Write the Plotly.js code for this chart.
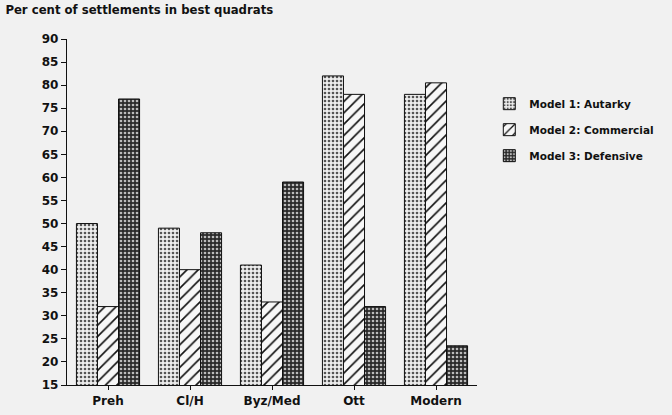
<!DOCTYPE html>
<html>
<head>
<meta charset="utf-8">
<script src="https://cdn.plot.ly/plotly-3.0.1.min.js"></script>
<style>
html,body{margin:0;padding:0;background:#f1f1f1;}
#chart{width:672px;height:415px;}
</style>
</head>
<body>
<div id="chart"></div>
<script>
var categories = ["Preh", "Cl/H", "Byz/Med", "Ott", "Modern"];
var autarky = [50, 49, 41, 82, 78];
var commercial = [32, 40, 33, 78, 80.5];
var defensive = [77, 48, 59, 32, 23.5];
var seriesNames = ["Model 1: Autarky", "Model 2: Commercial", "Model 3: Defensive"];
var yTicks = [15, 20, 25, 30, 35, 40, 45, 50, 55, 60, 65, 70, 75, 80, 85, 90];

var line = {color: "#111", width: 1};
var traces = [
  {type: "bar", x: categories, y: autarky, name: seriesNames[0], legendgroup: "a",
   marker: {color: "#e8e8e8", line: line,
            pattern: {shape: ".", fgcolor: "#555", bgcolor: "#eeeeee", size: 4, solidity: 0.35}}},
  {type: "bar", x: categories, y: commercial, name: seriesNames[1], legendgroup: "b",
   marker: {color: "#ffffff", line: line,
            pattern: {shape: "/", fgcolor: "#111", bgcolor: "#f7f7f7", size: 8, solidity: 0.2}}},
  {type: "bar", x: categories, y: defensive, name: seriesNames[2], legendgroup: "c",
   marker: {color: "#444", line: line,
            pattern: {shape: ".", fgcolor: "#bbbbbb", bgcolor: "#2a2a2a", size: 4, solidity: 0.35}}}
];

var layout = {
  width: 672, height: 415,
  paper_bgcolor: "#f1f1f1", plot_bgcolor: "#f1f1f1",
  margin: {l: 67, r: 195, t: 39, b: 30},
  font: {family: "DejaVu Sans, sans-serif", size: 12, color: "#111", weight: "bold"},
  barmode: "group", bargap: 0.23, bargroupgap: 0,
  title: {text: "<b>Per cent of settlements in best quadrats</b>", x: 0.008, xanchor: "left",
          y: 0.985, yanchor: "top", font: {size: 11.7, color: "#111"}},
  xaxis: {showline: true, linecolor: "#111", linewidth: 1.2, ticks: "outside", ticklen: 4,
          tickcolor: "#111", showgrid: false, zeroline: false, range: [-0.5, 4.5],
          tickfont: {size: 12, weight: "bold"}},
  yaxis: {showline: true, linecolor: "#111", linewidth: 1.2, ticks: "outside", ticklen: 5,
          tickcolor: "#111", showgrid: false, zeroline: false, range: [15, 90],
          tickvals: yTicks, tickfont: {size: 12, weight: "bold"}},
  legend: {x: 1.03, y: 0.855, xanchor: "left", yanchor: "top", traceorder: "grouped",
           tracegroupgap: 7, font: {size: 10.5, weight: "bold"}, bgcolor: "rgba(0,0,0,0)"},
  showlegend: true
};

Plotly.newPlot("chart", traces, layout, {displayModeBar: false, staticPlot: true});
</script>
</body>
</html>
